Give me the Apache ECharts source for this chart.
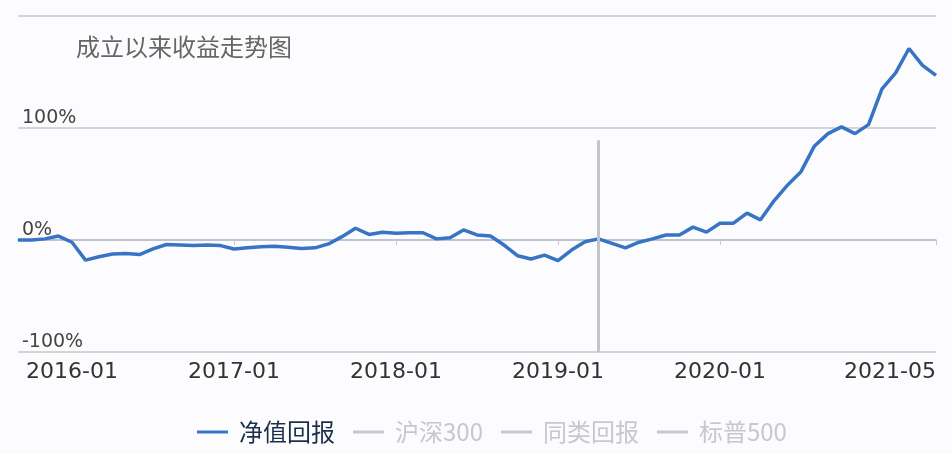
<!DOCTYPE html>
<html>
<head>
<meta charset="utf-8">
<title>成立以来收益走势图</title>
<script src="https://cdn.jsdelivr.net/npm/echarts@6/dist/echarts.min.js"></script>
<style>
    html, body { margin: 0; padding: 0; background: #fcfcfe; }
    #chart { width: 952px; height: 454px; }
</style>
</head>
<body>
<div id="chart"></div>
<script>
// 月份（2015-09 ~ 2021-05）
var months = [
    '2015-09', '2015-10', '2015-11', '2015-12',
    '2016-01', '2016-02', '2016-03', '2016-04', '2016-05', '2016-06', '2016-07', '2016-08', '2016-09', '2016-10', '2016-11', '2016-12',
    '2017-01', '2017-02', '2017-03', '2017-04', '2017-05', '2017-06', '2017-07', '2017-08', '2017-09', '2017-10', '2017-11', '2017-12',
    '2018-01', '2018-02', '2018-03', '2018-04', '2018-05', '2018-06', '2018-07', '2018-08', '2018-09', '2018-10', '2018-11', '2018-12',
    '2019-01', '2019-02', '2019-03', '2019-04', '2019-05', '2019-06', '2019-07', '2019-08', '2019-09', '2019-10', '2019-11', '2019-12',
    '2020-01', '2020-02', '2020-03', '2020-04', '2020-05', '2020-06', '2020-07', '2020-08', '2020-09', '2020-10', '2020-11', '2020-12',
    '2021-01', '2021-02', '2021-03', '2021-04', '2021-05'
];
// 净值回报（%）
var navReturn = [
    0, 0, 1, 3.5,
    -2, -18, -15, -12.5, -12, -13, -8, -4, -4.5, -5, -4.5, -5,
    -8, -7, -6, -5.5, -6.5, -7.5, -7, -3.5, 3, 10.5, 5, 7,
    6, 6.5, 6.5, 1, 2, 9, 4.5, 3.5, -4.5, -14, -17, -13.5,
    -18.5, -9, -1.5, 1, -3, -7, -2, 1, 4.5, 4.5, 11.5, 7,
    15, 15, 24, 18, 35, 49, 61, 84, 95, 101, 95, 103,
    135, 149, 171, 156, 147
];
// 其他对比（默认未选中）
var hs300 = [];
var peerReturn = [];
var sp500 = [];
// x轴显示的刻度
var tickMonths = ['2016-01', '2017-01', '2018-01', '2019-01', '2020-01', '2021-05'];
// y轴刻度
var yTicks = [-100, 0, 100, 200];
// 竖线位置
var markMonth = '2019-04';

var blue = '#3874c4';
var gray = '#c8c8cc';

var myChart = echarts.init(document.getElementById('chart'));

function showMonth(index, value) {
    return tickMonths.indexOf(value) > -1;
}

var option = {
    backgroundColor: '#fcfcfe',
    animation: false,
    title: {
        text: '成立以来收益走势图',
        left: 76,
        top: 35,
        padding: 0,
        textStyle: {
            color: '#666',
            fontSize: 24,
            fontWeight: 'normal',
            fontFamily: 'Noto Sans CJK SC'
        }
    },
    legend: {
        left: 197,
        top: 420,
        padding: 0,
        itemWidth: 31,
        itemHeight: 3,
        itemGap: 18,
        icon: 'rect',
        inactiveColor: gray,
        selected: {
            '沪深300': false,
            '同类回报': false,
            '标普500': false
        },
        textStyle: {
            color: '#1f2d4d',
            fontSize: 24,
            fontFamily: 'Noto Sans CJK SC',
            padding: [0, 0, 0, 6]
        },
        data: ['净值回报', '沪深300', '同类回报', '标普500']
    },
    grid: {
        left: 18,
        right: 16,
        top: 16,
        bottom: 102,
        containLabel: false
    },
    xAxis: {
        type: 'category',
        data: months,
        boundaryGap: false,
        axisLine: {
            lineStyle: { color: '#b4bfcf', width: 1.5 }
        },
        axisTick: {
            interval: showMonth,
            length: 5,
            lineStyle: { color: '#c8c8c8' }
        },
        axisLabel: {
            interval: showMonth,
            margin: 9,
            color: '#333',
            fontSize: 22,
            fontFamily: 'DejaVu Sans',
            alignMaxLabel: 'right'
        }
    },
    yAxis: {
        type: 'value',
        min: yTicks[0],
        max: yTicks[yTicks.length - 1],
        interval: 100,
        axisLine: { show: false },
        axisTick: { show: false },
        axisLabel: {
            inside: true,
            margin: 4,
            verticalAlign: 'bottom',
            color: '#444',
            fontSize: 19,
            fontFamily: 'DejaVu Sans',
            formatter: function (v) {
                return v === 200 ? '' : v + '%';
            }
        },
        splitLine: {
            lineStyle: { color: '#c8c8c8', width: 1.5 }
        }
    },
    series: [
        {
            name: '净值回报',
            type: 'line',
            data: navReturn,
            symbol: 'none',
            color: blue,
            lineStyle: { width: 3.5, color: blue },
            markLine: {
                silent: true,
                symbol: 'none',
                label: { show: false },
                lineStyle: { color: '#c3c3ca', width: 3, type: 'solid' },
                data: [[
                    { coord: [markMonth, 89] },
                    { coord: [markMonth, -100] }
                ]]
            }
        },
        { name: '沪深300', type: 'line', data: hs300, symbol: 'none', color: gray },
        { name: '同类回报', type: 'line', data: peerReturn, symbol: 'none', color: gray },
        { name: '标普500', type: 'line', data: sp500, symbol: 'none', color: gray }
    ]
};

myChart.setOption(option);
</script>
</body>
</html>
